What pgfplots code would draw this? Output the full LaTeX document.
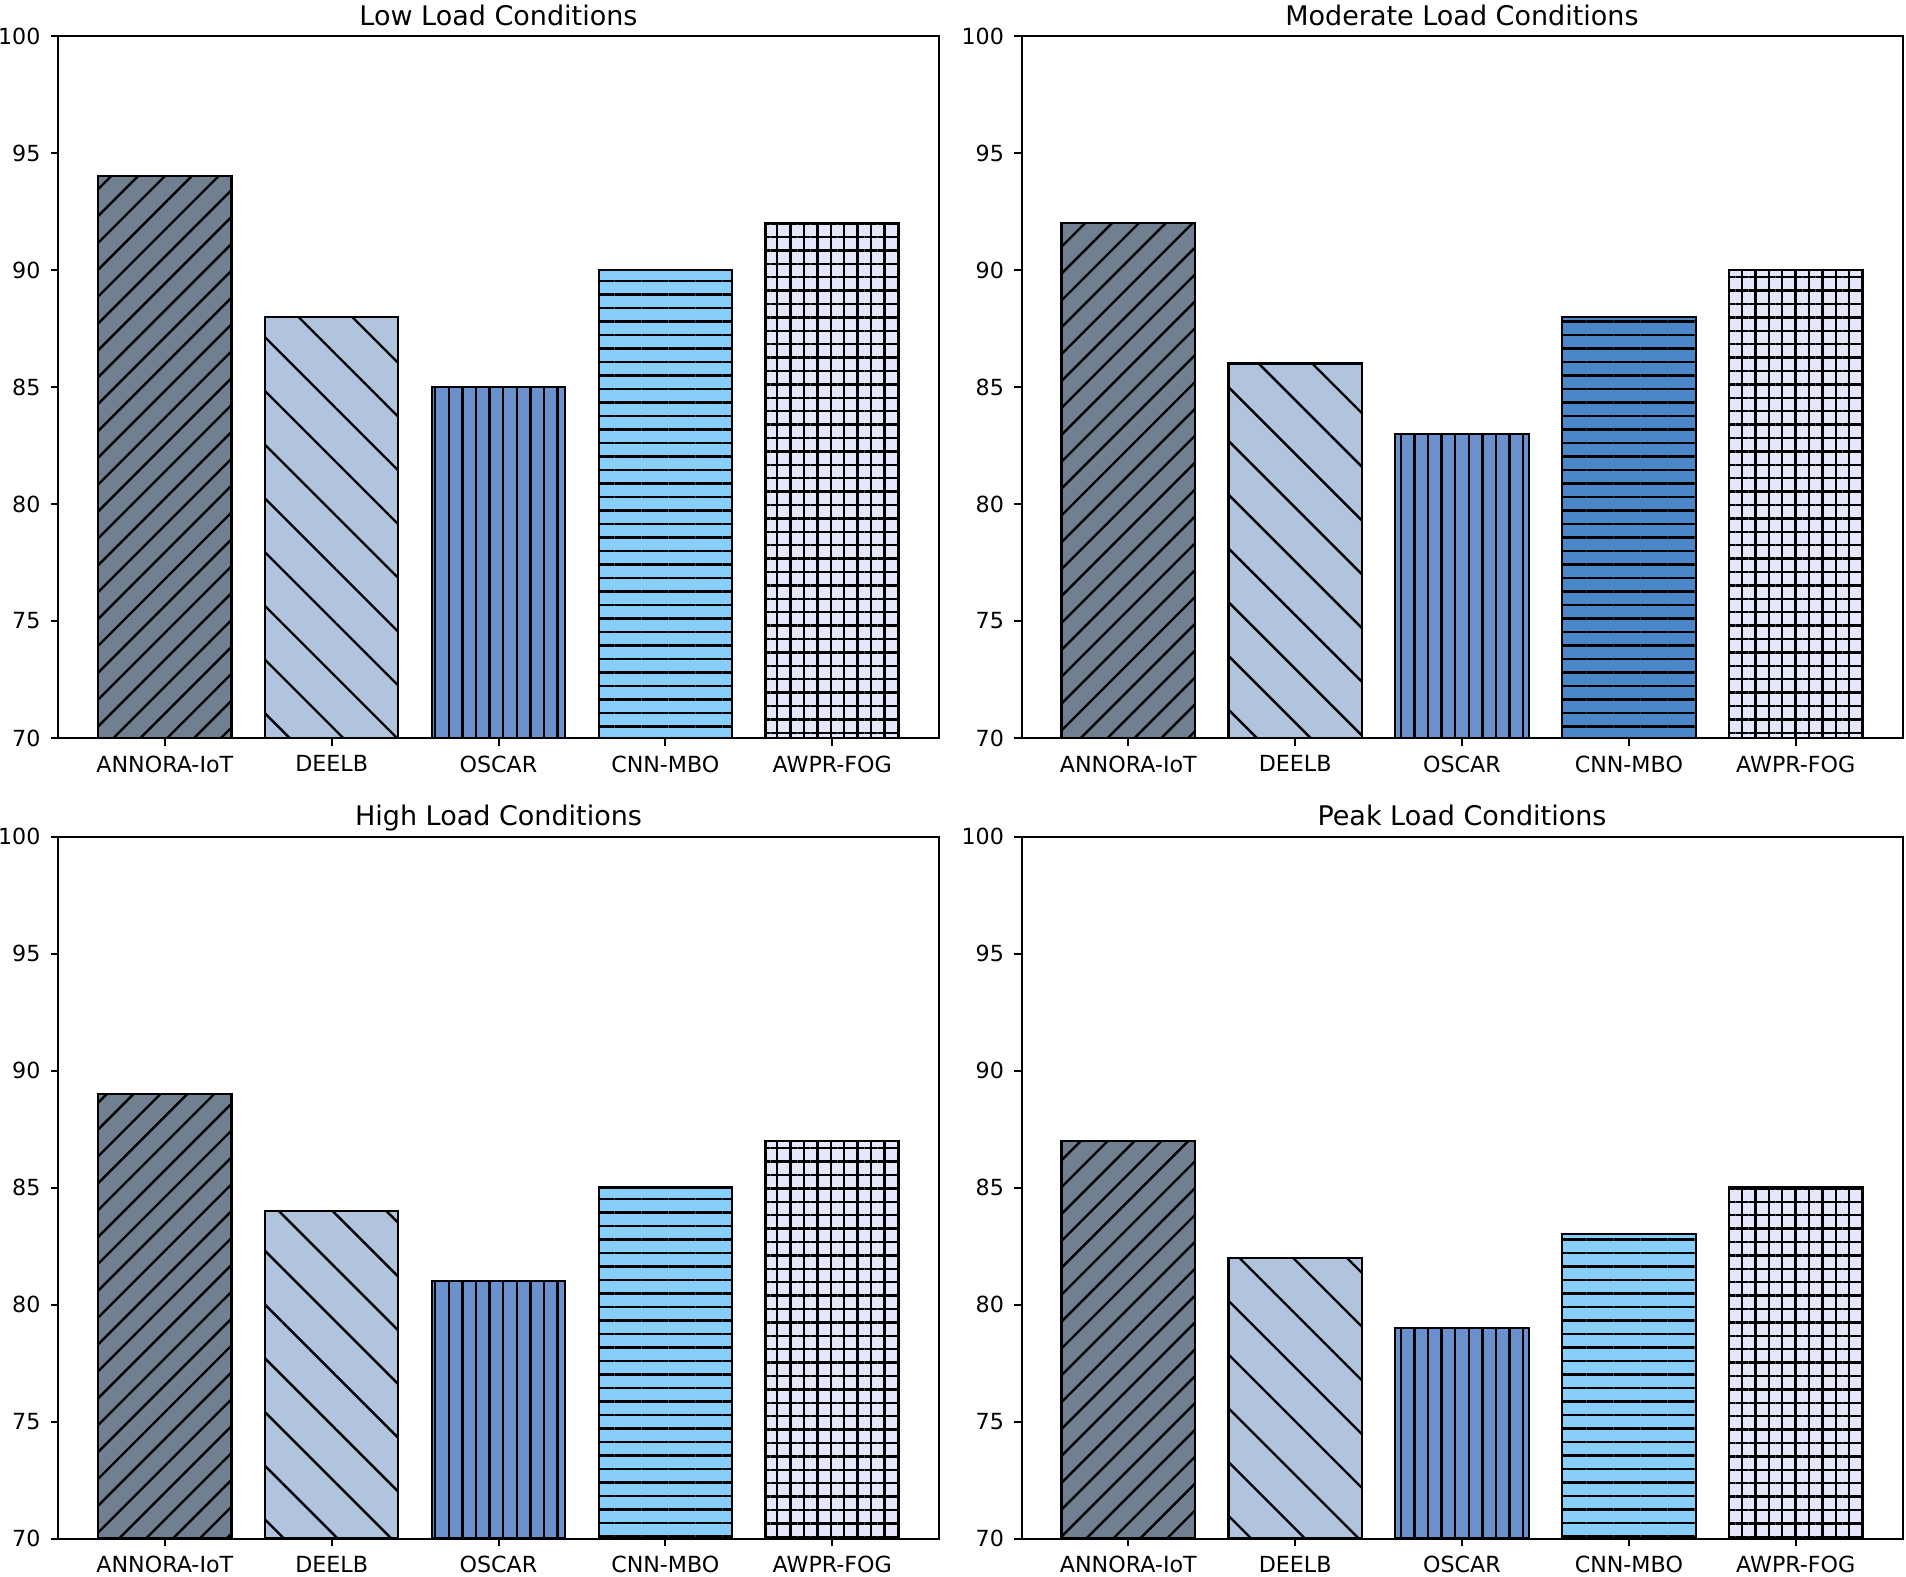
\documentclass[border=0pt]{standalone}
\usepackage{fontspec}
\setmainfont{DejaVu Sans}
\usepackage{pgfplots}
\pgfplotsset{compat=1.18}
\usetikzlibrary{patterns.meta}

\definecolor{cAnnora}{HTML}{708090}
\definecolor{cDeelb}{HTML}{B0C4DE}
\definecolor{cOscar}{HTML}{6A90CD}
\definecolor{cCnn}{HTML}{87CEFA}
\definecolor{cCnnDark}{HTML}{4A86C8}
\definecolor{cAwpr}{HTML}{E6E6FA}

\pgfplotsset{
  panel/.style={
    scale only axis, width=440.5pt, height=351pt,
    ybar, bar width=0.8,
    xmin=-0.64, xmax=4.64, ymin=70, ymax=100,
    xtick={0,...,4},
    xticklabels={ANNORA-IoT,DEELB,OSCAR,CNN-MBO,AWPR-FOG},
    ytick={70,75,...,100},
    tick pos=left, tick align=outside, major tick length=3.75pt,
    tick style={black, line width=1pt},
    axis line style={line width=1pt},
    ticklabel style={font=\fontsize{11.1}{13}\selectfont},
    /pgf/number format/assume math mode=true,
    xticklabel style={yshift=-1.5pt},
    yticklabel style={xshift=-1.5pt},
    title style={at={(0.5,1)}, anchor=base, yshift=-0.6pt,
                 font=\fontsize{13.5}{15}\selectfont},
  },
  hbar/.style={draw=black, line width=1.1pt, bar shift=0pt},
  annora/.style={hbar, fill=cAnnora,
    postaction={pattern={Lines[angle=45,distance=9.5pt,line width=1.2pt]}, pattern color=black}},
  deelb/.style={hbar, fill=cDeelb,
    postaction={pattern={Lines[angle=-45,distance=19pt,line width=1.2pt]}, pattern color=black}},
  oscar/.style={hbar, fill=cOscar,
    postaction={pattern={Lines[angle=90,distance=6.8pt,line width=1.2pt]}, pattern color=black}},
  cnn/.style={hbar, fill=#1,
    postaction={pattern={Lines[angle=0,distance=6.75pt,line width=1.2pt]}, pattern color=black}},
  cnn/.default=cCnn,
  awpr/.style={hbar, fill=cAwpr,
    postaction={pattern={Hatch[distance=6.7pt,line width=1.2pt]}, pattern color=black}},
}

\begin{document}
\begin{tikzpicture}
\useasboundingbox (0,0) rectangle (953pt,-788.5pt);

% Low load
\begin{axis}[panel, at={(29pt,-18pt)}, anchor=north west, title={Low Load Conditions}]
\addplot[annora] coordinates {(0,94)};
\addplot[deelb] coordinates {(1,88)};
\addplot[oscar] coordinates {(2,85)};
\addplot[cnn] coordinates {(3,90)};
\addplot[awpr] coordinates {(4,92)};
\end{axis}

% Moderate load
\begin{axis}[panel, at={(510.75pt,-18pt)}, anchor=north west, title={Moderate Load Conditions}]
\addplot[annora] coordinates {(0,92)};
\addplot[deelb] coordinates {(1,86)};
\addplot[oscar] coordinates {(2,83)};
\addplot[cnn=cCnnDark] coordinates {(3,88)};
\addplot[awpr] coordinates {(4,90)};
\end{axis}

% High load
\begin{axis}[panel, at={(29pt,-418.25pt)}, anchor=north west, title={High Load Conditions}]
\addplot[annora] coordinates {(0,89)};
\addplot[deelb] coordinates {(1,84)};
\addplot[oscar] coordinates {(2,81)};
\addplot[cnn] coordinates {(3,85)};
\addplot[awpr] coordinates {(4,87)};
\end{axis}

% Peak load
\begin{axis}[panel, at={(510.75pt,-418.25pt)}, anchor=north west, title={Peak Load Conditions}]
\addplot[annora] coordinates {(0,87)};
\addplot[deelb] coordinates {(1,82)};
\addplot[oscar] coordinates {(2,79)};
\addplot[cnn] coordinates {(3,83)};
\addplot[awpr] coordinates {(4,85)};
\end{axis}
\end{tikzpicture}
\end{document}
